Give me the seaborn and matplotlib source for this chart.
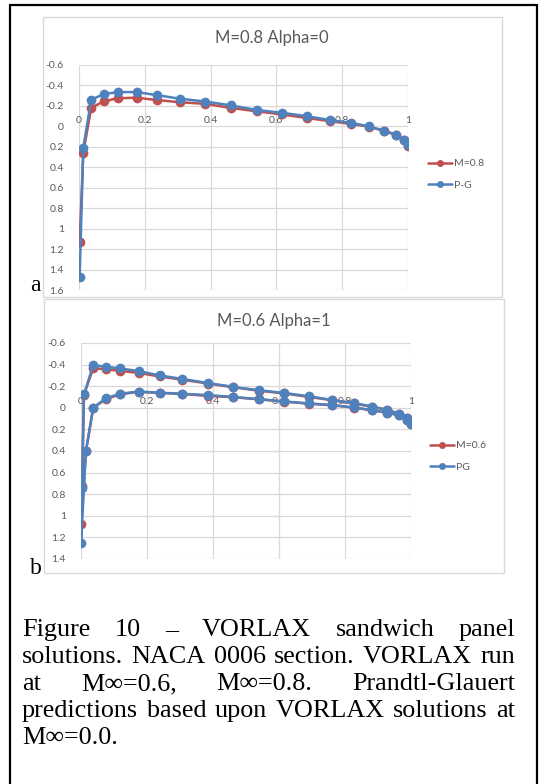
import numpy as np
import pandas as pd
import matplotlib
matplotlib.use("Agg")
import matplotlib.pyplot as plt
import seaborn as sns
from matplotlib.patches import Rectangle
from matplotlib.lines import Line2D

# ---------------- data ----------------
# Panel a: M=0.8, alpha=0 (x/c vs Cp)
xa = [0.002, 0.013, 0.037, 0.075, 0.118, 0.175, 0.238, 0.307, 0.384, 0.462,
      0.540, 0.616, 0.692, 0.762, 0.826, 0.882, 0.928, 0.963, 0.988, 1.0]
cp_a_m08 = [1.13, 0.26, -0.18, -0.245, -0.275, -0.28, -0.257, -0.236, -0.22, -0.18,
            -0.147, -0.117, -0.082, -0.051, -0.024, 0.003, 0.045, 0.082, 0.133, 0.19]
cp_a_pg = [1.47, 0.21, -0.26, -0.315, -0.335, -0.335, -0.305, -0.27, -0.243, -0.205,
           -0.16, -0.133, -0.10, -0.062, -0.035, 0.0, 0.045, 0.082, 0.133, 0.18]

# Panel b: M=0.6, alpha=1 (upper surface TE->LE, stagnation, lower surface LE->TE)
xb = [1.0, 0.988, 0.963, 0.928, 0.882, 0.826, 0.762, 0.692, 0.616, 0.540,
      0.462, 0.384, 0.307, 0.238, 0.175, 0.118, 0.075, 0.037, 0.009, 0.003,
      0.0,
      0.015, 0.037, 0.075, 0.118, 0.175, 0.238, 0.307, 0.384, 0.462, 0.540,
      0.616, 0.692, 0.762, 0.826, 0.882, 0.928, 0.963, 0.988, 1.0]
cp_b_m06 = [0.14, 0.09, 0.055, 0.02, -0.01, -0.04, -0.07, -0.10, -0.133, -0.158,
            -0.19, -0.225, -0.26, -0.29, -0.323, -0.342, -0.357, -0.367, -0.12, 0.72,
            1.075,
            0.40, 0.0, -0.08, -0.125, -0.148, -0.138, -0.128, -0.11, -0.098, -0.078,
            -0.057, -0.038, -0.023, -0.002, 0.023, 0.045, 0.07, 0.112, 0.15]
cp_b_pg = [0.13, 0.09, 0.053, 0.019, -0.012, -0.044, -0.072, -0.106, -0.137, -0.162,
           -0.193, -0.23, -0.267, -0.30, -0.34, -0.364, -0.38, -0.395, -0.124, 0.745,
           1.25,
           0.40, 0.0, -0.087, -0.13, -0.15, -0.14, -0.13, -0.118, -0.10, -0.08,
           -0.059, -0.04, -0.025, -0.003, 0.022, 0.044, 0.068, 0.11, 0.146]

titles = ["M=0.8 Alpha=0", "M=0.6 Alpha=1"]
legend_a = ["M=0.8", "P-G"]
legend_b = ["M=0.6", "PG"]
xticks = [0, 0.2, 0.4, 0.6, 0.8, 1.0]
xticklabels = ["0", "0.2", "0.4", "0.6", "0.8", "1"]
yticks_a = [-0.6, -0.4, -0.2, 0, 0.2, 0.4, 0.6, 0.8, 1.0, 1.2, 1.4, 1.6]
yticklabels_a = ["-0.6", "-0.4", "-0.2", "0", "0.2", "0.4", "0.6", "0.8", "1", "1.2", "1.4", "1.6"]
yticks_b = [-0.6, -0.4, -0.2, 0, 0.2, 0.4, 0.6, 0.8, 1.0, 1.2, 1.4]
yticklabels_b = ["-0.6", "-0.4", "-0.2", "0", "0.2", "0.4", "0.6", "0.8", "1", "1.2", "1.4"]

caption_lines = [
    "Figure 10 \u2013 VORLAX sandwich panel",
    "solutions. NACA 0006 section. VORLAX run",
    "at M\u221e=0.6, M\u221e=0.8. Prandtl-Glauert",
    "predictions based upon VORLAX solutions at",
    "M\u221e=0.0.",
]

# ---------------- style ----------------
sns.set_theme(style="white")
plt.rcParams['font.family'] = ['Lato', 'DejaVu Sans']
SERIF = ['Liberation Serif', 'DejaVu Serif']
RED = '#c0504d'
BLUE = '#4f81bd'
GRAY = '#595959'
GRID = '#d9d9d9'

W, H = 548, 784
fig = plt.figure(figsize=(W / 100, H / 100), dpi=100)
fig.patch.set_facecolor('white')


def fx(x):
    return x / W


def fy(y):
    return 1 - y / H


# outer black border
for (x0, y0, x1, y1) in [(10, 5, 10, 784), (10, 5, 537, 5), (537, 5, 537, 784)]:
    fig.add_artist(Line2D([fx(x0), fx(x1)], [fy(y0), fy(y1)], color='black', lw=1.6,
                          transform=fig.transFigure))


def panel(frame_box, ax_box, x, y_m, y_pg, yticks, yticklabels, title, title_xy,
          names, leg_xy, letter, letter_xy):
    fx0, fy0, fx1, fy1 = frame_box
    fig.add_artist(Rectangle((fx(fx0), fy(fy1)), fx(fx1) - fx(fx0), fy(fy0) - fy(fy1),
                             transform=fig.transFigure, facecolor='white',
                             edgecolor=GRID, lw=1.0, zorder=0))
    l, t, r, b = ax_box
    ax = fig.add_axes([fx(l), fy(b), fx(r) - fx(l), fy(t) - fy(b)])
    ax.set_facecolor('none')
    df = pd.DataFrame({'x': x, 'm': y_m, 'pg': y_pg})
    sns.lineplot(data=df, x='x', y='m', sort=False, estimator=None, color=RED,
                 marker='o', markersize=7, markeredgewidth=0, lw=1.8, ax=ax, legend=False)
    sns.lineplot(data=df, x='x', y='pg', sort=False, estimator=None, color=BLUE,
                 marker='o', markersize=7, markeredgewidth=0, lw=1.8, ax=ax, legend=False)
    ax.set_xlim(0, 1)
    ax.set_ylim(yticks[-1], yticks[0])
    ax.set_xticks(xticks)
    ax.set_xticklabels(xticklabels)
    ax.set_yticks(yticks)
    ax.set_yticklabels(yticklabels)
    ax.grid(True, color=GRID, lw=0.9)
    ax.set_axisbelow(True)
    for s in ax.spines.values():
        s.set_visible(False)
    ax.xaxis.tick_top()
    ax.spines['top'].set_position(('data', 0))
    ax.tick_params(axis='both', length=0, labelsize=7.5, labelcolor=GRAY)
    ax.tick_params(axis='y', pad=11)
    ax.tick_params(axis='x', pad=1)
    ax.set_xlabel('')
    ax.set_ylabel('')
    fig.text(fx(title_xy[0]), fy(title_xy[1]), title, ha='center', va='center',
             fontsize=12, color=GRAY)
    handles = [Line2D([], [], color=RED, marker='o', markersize=5, markeredgewidth=0, lw=1.8),
               Line2D([], [], color=BLUE, marker='o', markersize=5, markeredgewidth=0, lw=1.8)]
    fig.legend(handles, names, loc='upper left', bbox_to_anchor=(fx(leg_xy[0]), fy(leg_xy[1])),
               frameon=False, fontsize=7.5, labelcolor=GRAY, handlelength=2.3,
               handletextpad=0.15, labelspacing=1.2, borderaxespad=0, borderpad=0)
    fig.text(fx(letter_xy[0]), fy(letter_xy[1]), letter, ha='center', va='baseline',
             fontsize=17, family=SERIF, color='black')
    return ax


panel((43, 17, 502, 297), (79, 65, 408, 290), xa, cp_a_m08, cp_a_pg, yticks_a, yticklabels_a,
      titles[0], (272, 38), legend_a, (428, 159), 'a', (35, 291))
panel((44, 299, 504, 573), (81, 343, 411, 559), xb, cp_b_m06, cp_b_pg, yticks_b, yticklabels_b,
      titles[1], (274, 321), legend_b, (430, 441), 'b', (36, 574))

# ---------------- caption (justified) ----------------
renderer = fig.canvas.get_renderer()
CAP_FS = 18.8
X0, X1 = 22, 515
baselines = [636, 663, 690, 717, 744]
for i, (line, yb) in enumerate(zip(caption_lines, baselines)):
    words = line.split(' ')
    texts = [fig.text(0, fy(yb), w, fontsize=CAP_FS, family=SERIF, va='baseline',
                      ha='left', color='black') for w in words]
    widths = [t.get_window_extent(renderer).width for t in texts]
    last = (i == len(caption_lines) - 1)
    if len(words) > 1 and not last:
        gap = ((X1 - X0) - sum(widths)) / (len(words) - 1)
    else:
        gap = CAP_FS * 0.25 * 100 / 72
    xpos = X0
    for t, w in zip(texts, widths):
        t.set_x(fx(xpos))
        xpos += w + gap

fig.savefig('out.png', dpi=100, facecolor='white')
